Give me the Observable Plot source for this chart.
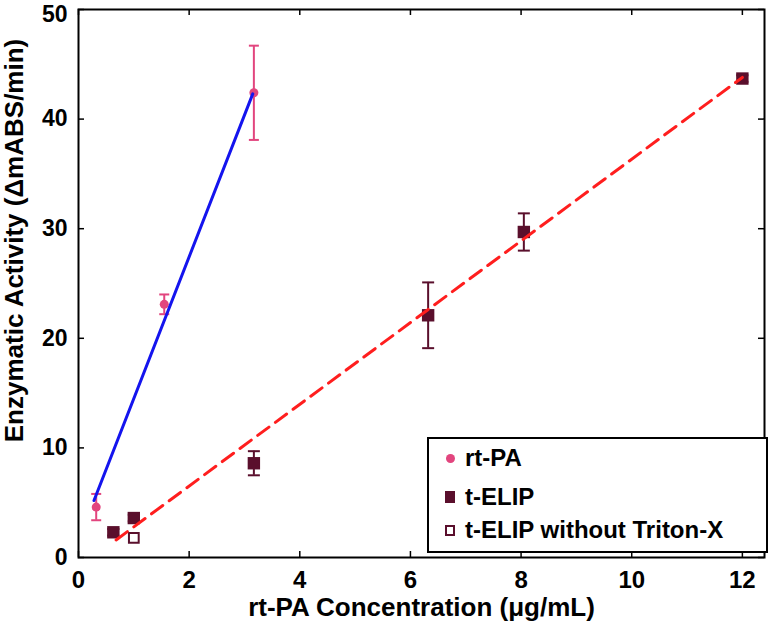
<!DOCTYPE html>
<html>
<head>
<meta charset="utf-8">
<script src="https://cdn.jsdelivr.net/npm/d3@7"></script>
<script src="https://cdn.jsdelivr.net/npm/@observablehq/plot@0.6"></script>
<style>
  html, body { margin: 0; padding: 0; background: #fff; }
  #wrap { position: relative; width: 774px; height: 630px; font-family: "Liberation Sans", Arial, sans-serif; }
  #legend { position: absolute; left: 427px; top: 437px; width: 337px; height: 112px; border: 2px solid #000; background: #fff; }
  .row { position: absolute; left: 0; font-weight: bold; font-size: 24px; color: #000; line-height: 24px; }
  .row .txt { position: absolute; left: 36px; white-space: nowrap; top: -12px; }
  .mk { position: absolute; box-sizing: border-box; }
</style>
</head>
<body>
<div id="wrap"></div>
<script>
// ---- data ----
const xTicks = [0, 2, 4, 6, 8, 10, 12];
const yTicks = [0, 10, 20, 30, 40, 50];

const rtpaX = [0.32, 1.55, 3.17];
const rtpaY = [4.6, 23.1, 42.4];
const rtpaErr = [1.2, 0.9, 4.3];

const telipX = [0.63, 1.0, 3.17, 6.32, 8.05, 12.0];
const telipY = [2.3, 3.6, 8.6, 22.1, 29.7, 43.7];
const telipErr = [0.3, 0.3, 1.1, 3.0, 1.7, 0.3];

const tritonX = [1.0];
const tritonY = [1.8];

// fitted lines (end points)
const fitRtpaX = [0.28, 3.15];
const fitRtpaY = [5.2, 42.3];
const fitTelipX = [0.68, 12.0];
const fitTelipY = [1.6, 43.8];

const labels = ["rt-PA", "t-ELIP", "t-ELIP without Triton-X"];
const xTitle = "rt-PA Concentration (μg/mL)";
const yTitle = "Enzymatic Activity (ΔmABS/min)";
const colors = {pink: "#e2457e", maroon: "#5a0f2c", blue: "#1414ee", red: "#ff1e1e"};

// ---- tables ----
const rtpa = rtpaX.map((x, i) => ({x, y: rtpaY[i], lo: rtpaY[i] - rtpaErr[i], hi: rtpaY[i] + rtpaErr[i]}));
const telip = telipX.map((x, i) => ({x, y: telipY[i], lo: telipY[i] - telipErr[i], hi: telipY[i] + telipErr[i]}));
const triton = tritonX.map((x, i) => ({x, y: tritonY[i]}));
const fitR = fitRtpaX.map((x, i) => ({x, y: fitRtpaY[i]}));
const fitT = fitTelipX.map((x, i) => ({x, y: fitTelipY[i]}));

const W = 774, H = 630;
const mL = 78, mR = 10, mT = 9, mB = 73;
const iw = W - mL - mR, ih = H - mT - mB;
const tk = 6;
const yMax = d3.max(yTicks);

const cap = w => ({draw(ctx) { ctx.moveTo(-w, 0); ctx.lineTo(w, 0); }});

const font = "'Liberation Sans', Arial, sans-serif";
const yAxisOpts = {tickSize: 0, tickPadding: 11, label: null, fontSize: 23, fontWeight: "bold", tickFormat: d => d};

const chart = Plot.plot({
  width: W, height: H,
  marginLeft: mL, marginRight: mR, marginTop: mT, marginBottom: mB,
  style: {fontFamily: font, fontWeight: "bold", background: "#fff", color: "#000"},
  x: {domain: [0, 12.4], ticks: xTicks},
  y: {domain: [0, 50], ticks: yTicks},
  marks: [
    Plot.axisX({ticks: xTicks, tickSize: 0, tickPadding: 13, label: null, fontSize: 24, fontWeight: "bold", tickFormat: d => d}),
    Plot.axisY({...yAxisOpts, ticks: yTicks.filter(v => v < yMax)}),
    Plot.axisY({...yAxisOpts, ticks: yTicks.filter(v => v === yMax), dy: 5}),
    // inward ticks on all four sides
    Plot.tickX(xTicks, {x: d => d, insetTop: ih - tk, stroke: "#000", strokeWidth: 1.5}),
    Plot.tickX(xTicks, {x: d => d, insetBottom: ih - tk, stroke: "#000", strokeWidth: 1.5}),
    Plot.tickY(yTicks, {y: d => d, insetRight: iw - tk, stroke: "#000", strokeWidth: 1.5}),
    Plot.tickY(yTicks, {y: d => d, insetLeft: iw - tk, stroke: "#000", strokeWidth: 1.5}),
    Plot.frame({stroke: "#000", strokeWidth: 2}),
    // error bars
    Plot.ruleX(rtpa, {x: "x", y1: "lo", y2: "hi", stroke: colors.pink, strokeWidth: 2}),
    Plot.dot(rtpa, {x: "x", y: "lo", symbol: cap(5), stroke: colors.pink, fill: "none", strokeWidth: 2}),
    Plot.dot(rtpa, {x: "x", y: "hi", symbol: cap(5), stroke: colors.pink, fill: "none", strokeWidth: 2}),
    Plot.ruleX(telip, {x: "x", y1: "lo", y2: "hi", stroke: colors.maroon, strokeWidth: 2}),
    Plot.dot(telip, {x: "x", y: "lo", symbol: cap(6), stroke: colors.maroon, fill: "none", strokeWidth: 2}),
    Plot.dot(telip, {x: "x", y: "hi", symbol: cap(6), stroke: colors.maroon, fill: "none", strokeWidth: 2}),
    // markers
    Plot.dot(rtpa, {x: "x", y: "y", r: 4.5, fill: colors.pink, stroke: "none"}),
    Plot.dot(telip, {x: "x", y: "y", symbol: "square", r: 7, fill: colors.maroon, stroke: "none"}),
    Plot.dot(triton, {x: "x", y: "y", symbol: "square", r: 5.5, fill: "#fff", stroke: colors.maroon, strokeWidth: 2}),
    // fit lines
    Plot.line(fitR, {x: "x", y: "y", stroke: colors.blue, strokeWidth: 3}),
    Plot.line(fitT, {x: "x", y: "y", stroke: colors.red, strokeWidth: 3, strokeDasharray: "14,8"}),
    // axis titles
    Plot.text([xTitle], {frameAnchor: "bottom", dy: 58, fontSize: 26, fontWeight: "bold", fill: "#000", textAnchor: "middle"}),
    Plot.text([yTitle], {frameAnchor: "left", dx: -64, dy: -43, rotate: -90, fontSize: 26, fontWeight: "bold", fill: "#000", textAnchor: "middle"})
  ]
});

const wrap = document.getElementById("wrap");
chart.style.position = "absolute";
chart.style.left = "0px";
chart.style.top = "0px";
wrap.appendChild(chart);

// legend
const legend = document.createElement("div");
legend.id = "legend";
const rowsY = [19, 58, 91];
const markers = [
  `<div class="mk" style="left:17px;top:-4px;width:9px;height:9px;border-radius:50%;background:${colors.pink}"></div>`,
  `<div class="mk" style="left:16px;top:-6px;width:10px;height:12px;background:${colors.maroon}"></div>`,
  `<div class="mk" style="left:16px;top:-5px;width:10px;height:11px;border:2px solid ${colors.maroon};background:#fff"></div>`
];
labels.forEach((t, i) => {
  const r = document.createElement("div");
  r.className = "row";
  r.style.top = rowsY[i] + "px";
  r.innerHTML = markers[i] + `<span class="txt">${t}</span>`;
  legend.appendChild(r);
});
wrap.appendChild(legend);
</script>
</body>
</html>
